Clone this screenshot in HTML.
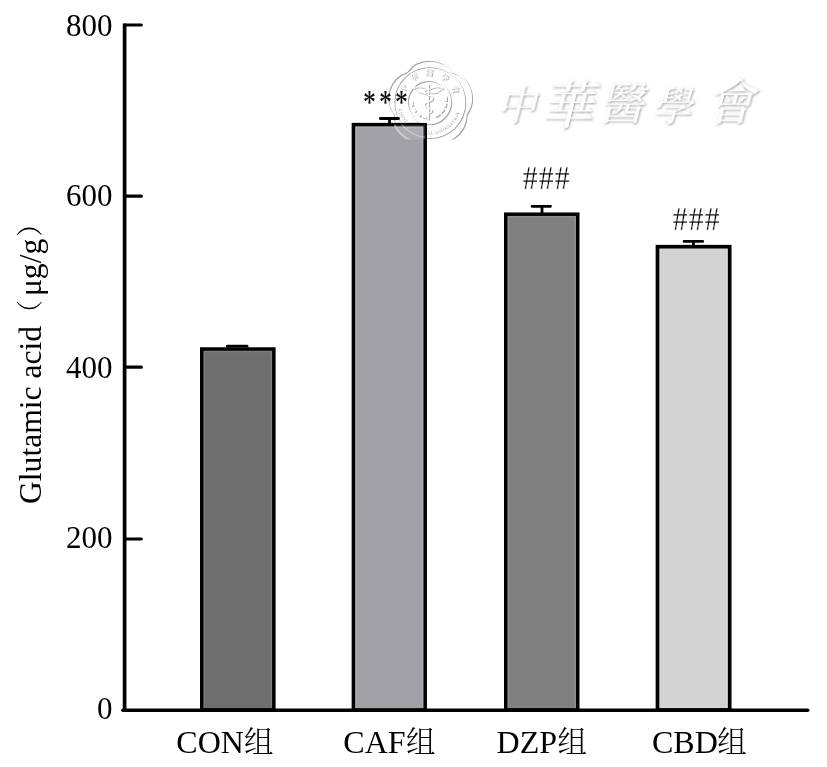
<!DOCTYPE html>
<html lang="zh">
<head>
<meta charset="utf-8">
<title>Glutamic acid</title>
<style>
  html, body { margin: 0; padding: 0; background: #ffffff; }
  body { width: 827px; height: 767px; overflow: hidden; }
  svg { display: block; }
  .lat { font-family: "Liberation Serif", "Noto Serif CJK SC", serif; font-size: 31px; fill: #000; }
  .xl  { font-size: 32px; }
  .yl  { font-size: 31.6px; }
  .cjk { font-family: "Noto Serif CJK SC", "Liberation Serif", serif; font-size: 30px; fill: #000; font-weight: 300; }
  .wm  { font-family: "Noto Serif CJK TC", "Noto Serif CJK SC", serif; font-weight: 500; }
  .seal { font-family: "Noto Serif CJK TC", "Liberation Serif", serif; }
</style>
</head>
<body>
<svg width="827" height="767" viewBox="0 0 827 767">
  <defs>
    <clipPath id="inbar"><rect x="353.400" y="124.600" width="71.800" height="15"/></clipPath>
    <clipPath id="outbar"><path d="M0 0H827V139.600H0Z M351.600 122.800V139.600H427V122.800Z" clip-rule="evenodd"/></clipPath>
    <path id="ringTop" d="M402.200 101.600A26.300 26.300 0 0 1 454.800 101.600"/>
    <path id="ringBot" d="M396.500 101.600A32 32 0 0 0 460.500 101.600"/>
    <g id="sealArt" fill="none">
      <path id="blossom" d="M406.6 71.3A28 28 0 0 1 451.8 71.3A28 28 0 0 1 465.7 114.3A28 28 0 0 1 429.2 140.8A28 28 0 0 1 392.7 114.3A28 28 0 0 1 406.6 71.3Z" stroke-width="2"/>
      <circle cx="429.200" cy="102" r="35.500" stroke-width="1.200"/>
      <circle cx="428.600" cy="101.700" r="21.600" stroke-width="2"/>
      <!-- wreath -->
      <path d="M411.500 101c0.500 9 7 15.500 15 16.500M445.700 96c1.500 8-2.500 17-11.500 20.500" stroke-width="2.200" stroke-dasharray="5 1.500"/>
      <!-- staff with serpent and wings -->
      <path d="M428.300 84V119.500" stroke-width="1.500"/>
      <path d="M428.300 88.500c-5.500 1.500-5.500 5 0 6.500s5.500 5 0 6.500s-5 5 0 6.500s4 4 0 5.500" stroke-width="1.200"/>
      <path d="M428.300 90c-4-3.500-10-4-15-2c3 1 4 2.500 6 4c3 1.500 6 1 9-0.500M428.300 90c4-3.500 10-4 15-2c-3 1-4 2.500-6 4c-3 1.500-6 1-9-0.500" stroke-width="1"/>
    </g>
  </defs>
  <rect x="0" y="0" width="827" height="767" fill="#ffffff"/>

  <!-- bars -->
  <g stroke="#000" stroke-width="3.500" stroke-linejoin="miter">
    <rect x="201.750" y="349" width="72.100" height="361" fill="#6e6e6e"/>
    <rect x="353.400" y="124.600" width="71.800" height="585.500" fill="#a2a1a6"/>
    <rect x="505.750" y="214.200" width="72" height="495.800" fill="#808080"/>
    <rect x="657.500" y="246.700" width="72.200" height="463.300" fill="#d3d3d3" stroke-width="3.700"/>
  </g>
  <g fill="none" stroke="#ffffff" stroke-width="1.600" stroke-opacity="0.100">
    <path d="M204.300 708V351.550H271.300V708"/>
    <path d="M355.950 708V127.150H422.650V708"/>
    <path d="M508.300 708V216.750H575.200V708"/>
    <path d="M660.150 708V249.350H727.050V708"/>
  </g>

  <!-- watermark: seal -->
  <g clip-path="url(#outbar)">
    <g stroke="#ffffff" style="filter: drop-shadow(1.100px 1.100px 0.600px #a6a6a6) blur(0.350px)">
      <use href="#sealArt"/>
      <text class="seal" font-size="8" font-weight="700" fill="#ffffff" stroke="none" letter-spacing="6.400"><textPath href="#ringTop" startOffset="8.500">中華醫學會</textPath></text>
      <text class="seal" font-size="4.400" font-weight="700" fill="#ffffff" stroke="none" letter-spacing="0.250"><textPath href="#ringBot" startOffset="7">CHINESE MEDICAL ASSOCIATION</textPath></text>
    </g>
  </g>
  <g clip-path="url(#inbar)" stroke="#ffffff" opacity="0.450">
    <use href="#blossom" fill="#ffffff" fill-opacity="0.300" stroke="none"/>
    <use href="#sealArt"/>
  </g>

  <!-- error bars -->
  <g stroke="#000" stroke-width="2.800" stroke-linecap="round" fill="none">
    <path d="M227.400 346.200H247"/>
    <path d="M380.300 118.500H398.500M389.500 118.500V123"/>
    <path d="M532 206.300H550.500M542 206.300V213"/>
    <path d="M684 241.400H702.700M693.400 241.400V245"/>
  </g>

  <!-- watermark: calligraphy title -->
  <g class="wm" transform="skewX(-14)" fill="#ffffff" style="filter: drop-shadow(1.700px 1.800px 0.800px #9c9c9c)">
    <text y="119"><tspan x="526" font-size="40">中</tspan><tspan x="572" y="124" font-size="52">華</tspan><tspan x="629" y="119" font-size="44">醫</tspan><tspan x="682" y="120" font-size="40">學</tspan><tspan x="736" y="119" font-size="48">會</tspan></text>
  </g>

  <!-- axes -->
  <g stroke="#000" fill="none">
    <path d="M124.600 23.400V712" stroke-width="3.700"/>
    <path d="M122.900 710.300H807.700" stroke-width="3.600" stroke-linecap="round"/>
    <g stroke-width="3.200" stroke-linecap="round">
      <path d="M124.600 25H141.300"/>
      <path d="M124.600 196.200H141.300"/>
      <path d="M124.600 367.200H141.300"/>
      <path d="M124.600 539H141.300"/>
    </g>
  </g>

  <!-- y tick labels -->
  <g class="lat" text-anchor="end">
    <text x="112.400" y="35.600">800</text>
    <text x="112.400" y="206.400">600</text>
    <text x="112.400" y="377.500">400</text>
    <text x="112.400" y="548.100">200</text>
    <text x="112.400" y="719">0</text>
  </g>

  <!-- y axis title -->
  <g transform="translate(40.900 504) rotate(-90)">
    <text class="lat yl" x="0" y="0">Glutamic acid<tspan class="cjk" x="177.400" dy="-1.500" style="font-size:26.400px">（</tspan><tspan x="207.900" dy="1.500">μg/g</tspan><tspan class="cjk" x="267.300" dy="-1.500" style="font-size:26.400px">）</tspan></text>
  </g>

  <!-- x labels -->
  <text class="lat xl" x="176.300" y="752.800">CON<tspan class="cjk" x="244" dy="-0.700" style="font-size:29.600px">组</tspan></text>
  <text class="lat xl" x="343.300" y="752.800">CAF<tspan class="cjk" x="406" dy="-0.700" style="font-size:29.600px">组</tspan></text>
  <text class="lat xl" x="496.600" y="752.800">DZP<tspan class="cjk" x="557.600" dy="-0.700" style="font-size:29.600px">组</tspan></text>
  <text class="lat xl" x="652" y="752.800">CBD<tspan class="cjk" x="717.300" dy="-0.700" style="font-size:29.600px">组</tspan></text>

  <!-- significance marks -->
  <text class="lat" transform="translate(363.300 113) scale(0.800 1.070)" x="0" y="0" stroke="#000" stroke-width="0.220" stroke-linejoin="round" style="letter-spacing:4.500px">***</text>
  <text class="lat" transform="translate(522.700 188.800) scale(0.930 1.040)" x="0" y="0" stroke="#fff" stroke-width="0.300" style="letter-spacing:1.300px;font-size:32px">###</text>
  <text class="lat" transform="translate(672.700 229.700) scale(0.930 1.040)" x="0" y="0" stroke="#fff" stroke-width="0.300" style="letter-spacing:1.300px;font-size:32px">###</text>
</svg>
</body>
</html>
